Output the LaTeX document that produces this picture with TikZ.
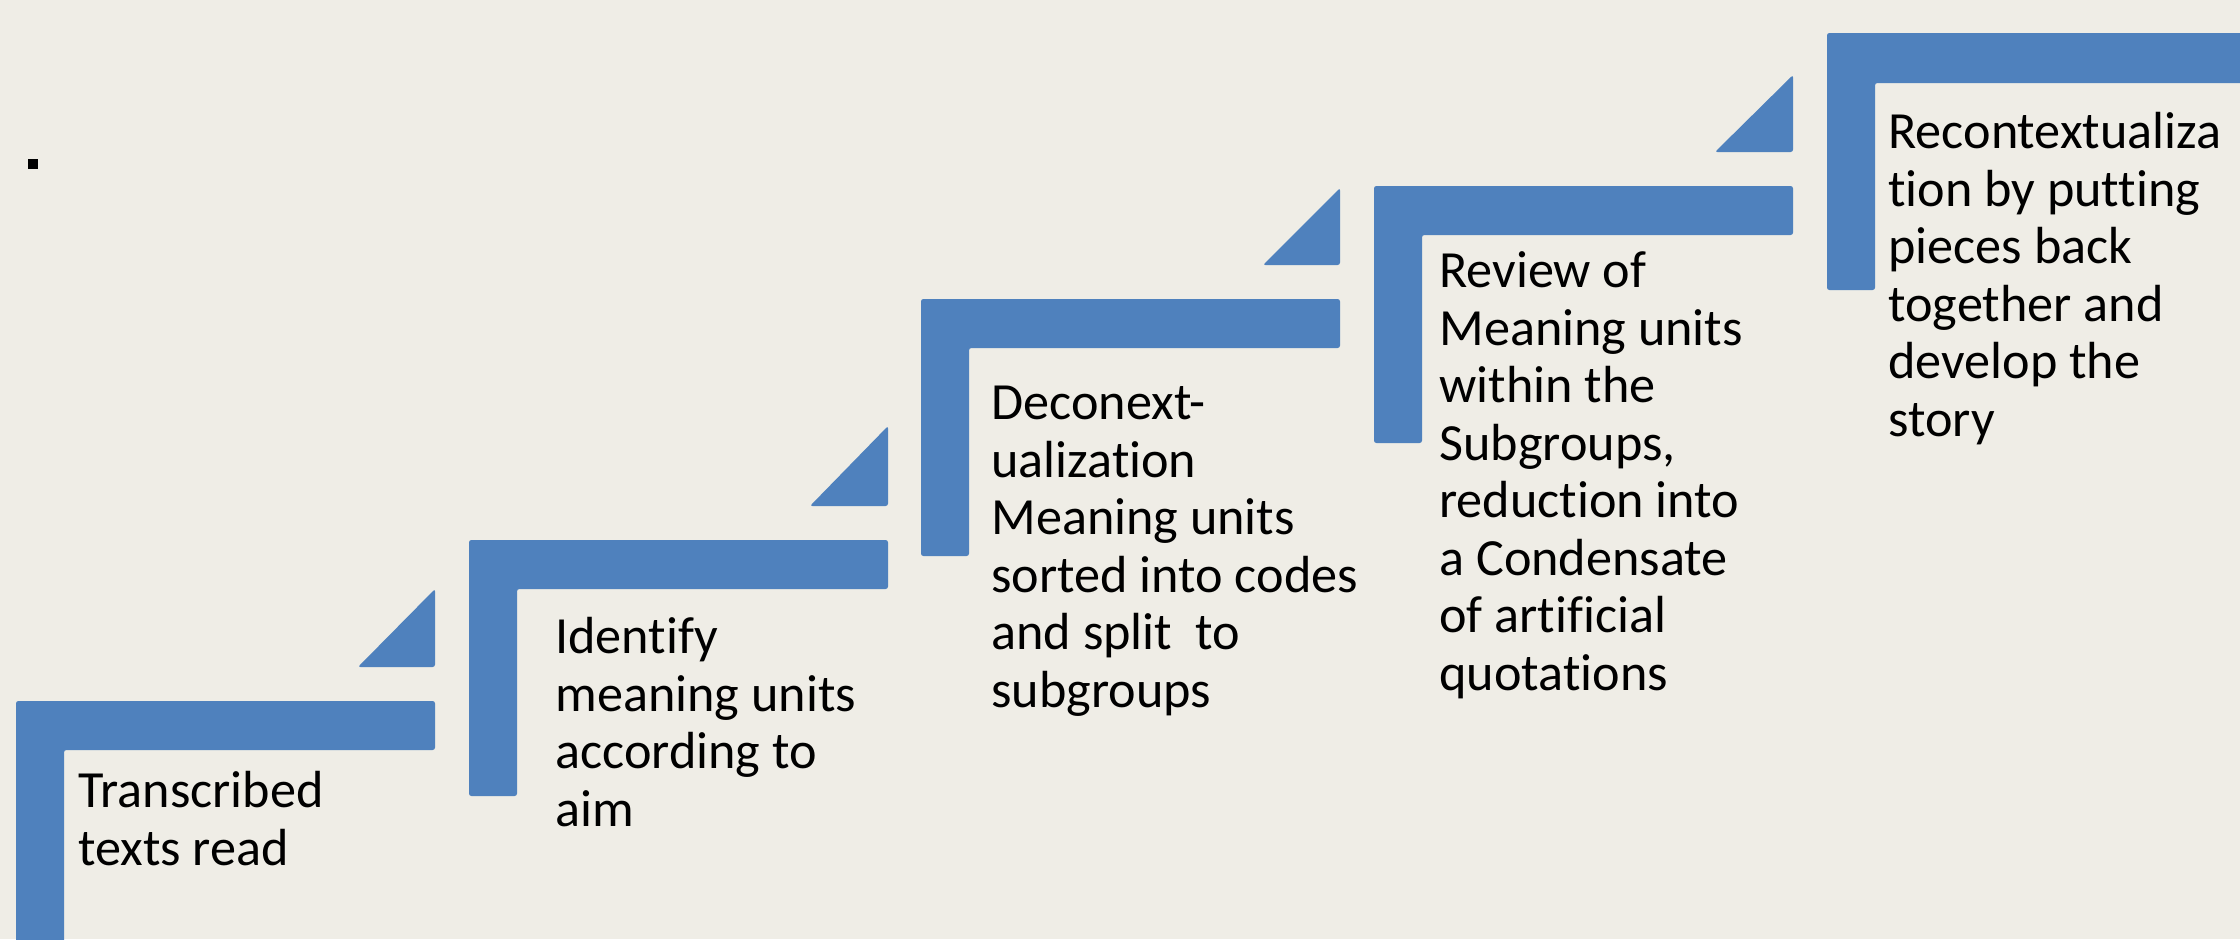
\documentclass[tikz,border=0pt]{standalone}
\usepackage{fontspec}
\setmainfont{Carlito}[Ligatures=NoCommon]
\usepackage{tikz}
\usetikzlibrary{calc}
\definecolor{stepblue}{RGB}{79,129,189}
\definecolor{slidebg}{RGB}{239,237,230}
\tikzset{
    stepbar/.style={
        fill=stepblue, rounded corners=1.2pt
    },
    steptext/.style={
        anchor=base west, align=left, inner sep=0pt,
        font=\fontsize{26.1}{28.75}\selectfont
    }
}

\begin{document}
\begin{tikzpicture}[
        x=0.5pt, y=-0.5pt,
        % --- STYLE ---
        stepwedge/.style={
            fill=stepblue, rounded corners=1.2pt
        },
        dotbox/.style={
            fill=black, minimum size=5pt, inner sep=0pt
        }
    ]
        % --- 0. NỀN ---
        \useasboundingbox (0,0) rectangle (2240,939);
        \fill[slidebg] (0,0) rectangle (2240,939);
        \clip (0,0) rectangle (2240,939);

        % --- 1. CÁC BẬC THANG ---
        \coordinate (s1) at (16,701);
        \coordinate (s2) at (469,540);
        \coordinate (s3) at (921,299);
        \coordinate (s4) at (1374,186);
        \coordinate (s5) at (1827,33);

        \fill[stepbar] (s1) -- ++(419,0) -- ++(0,49) -- ++(-371,0) -- ++(0,260) -- ++(-48,0) -- cycle;
        \fill[stepbar] (s2) -- ++(419,0) -- ++(0,49) -- ++(-371,0) -- ++(0,207) -- ++(-48,0) -- cycle;
        \fill[stepbar] (s3) -- ++(419,0) -- ++(0,49) -- ++(-371,0) -- ++(0,208) -- ++(-48,0) -- cycle;
        \fill[stepbar] (s4) -- ++(419,0) -- ++(0,49) -- ++(-371,0) -- ++(0,208) -- ++(-48,0) -- cycle;
        \fill[stepbar] (s5) -- ++(440,0) -- ++(0,50) -- ++(-392,0) -- ++(0,207) -- ++(-48,0) -- cycle;

        % --- 2. CÁC TAM GIÁC ---
        \fill[stepwedge] ($(s1)+(419,-34)$) -- ++(0,-78) -- ++(-77,78) -- cycle;
        \fill[stepwedge] ($(s2)+(419,-34)$) -- ++(0,-80) -- ++(-78,80) -- cycle;
        \fill[stepwedge] ($(s3)+(419,-34)$) -- ++(0,-77) -- ++(-77,77) -- cycle;
        \fill[stepwedge] ($(s4)+(419,-34)$) -- ++(0,-77) -- ++(-78,77) -- cycle;

        % --- 3. CÁC TEXT (base = dòng cuối) ---
        \node[steptext] (t1) at (78,865) {Transcribed\\texts read};
        \node[steptext] (t2) at (555,826) {Identify\\meaning units\\according to\\aim};
        \node[steptext] (t3) at (991,707) {Deconext-\\ualization\\Meaning units\\sorted into codes\\and split~ to\\subgroups};
        \node[steptext] (t4) at (1439,690) {Review of\\Meaning units\\within the\\Subgroups,\\reduction into\\a Condensate\\of artificial\\quotations};
        \node[steptext] (t5) at (1888,436) {Recontextualiza\\tion by putting\\pieces back\\together and\\develop the\\story};

        \node[dotbox] (dot) at (33,164) {};

    \end{tikzpicture}
\end{document}
